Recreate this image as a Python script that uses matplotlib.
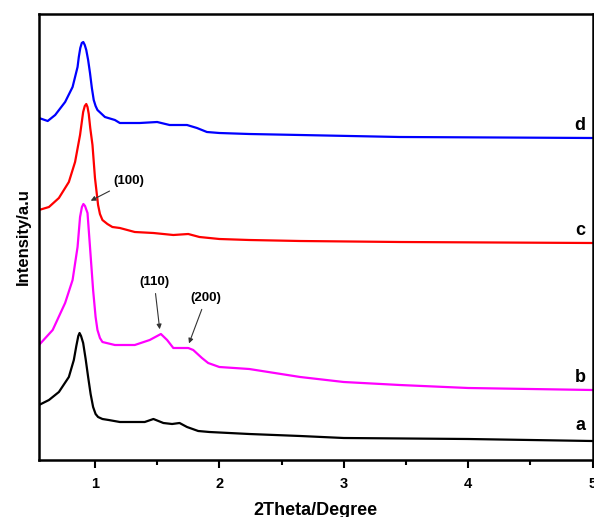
import matplotlib
matplotlib.use("Agg")
import matplotlib.pyplot as plt
from matplotlib.ticker import MultipleLocator

plt.rcParams['font.family'] = ['Liberation Sans', 'DejaVu Sans']
plt.rcParams['font.weight'] = 'bold'

# curve a (black)
tt_a = [0.55, 0.63, 0.71, 0.79, 0.83, 0.85, 0.866, 0.876, 0.888, 0.905, 0.925, 0.945, 0.965,
        0.985, 1.005, 1.025, 1.06, 1.11, 1.20, 1.32, 1.40, 1.47, 1.55, 1.62, 1.68, 1.74,
        1.83, 1.92, 2.24, 2.65, 3.0, 4.0, 5.0]
int_a = [55, 60, 68, 83, 100, 114, 124, 127, 124, 117, 101, 83, 66,
         53, 46, 43, 41, 40, 38, 38, 38, 41, 37, 36, 37, 33,
         29, 28, 26, 24, 22, 21, 19]

# curve b (magenta)
tt_b = [0.55, 0.66, 0.76, 0.82, 0.86, 0.88, 0.895, 0.907, 0.92, 0.94, 0.96, 0.985, 1.005,
        1.02, 1.04, 1.06, 1.16, 1.32, 1.44, 1.53, 1.58, 1.63, 1.70, 1.75, 1.79, 1.86,
        1.91, 2.0, 2.24, 2.65, 3.0, 3.45, 4.0, 5.0]
int_b = [115, 130, 157, 180, 213, 243, 253, 256, 254, 247, 213, 170, 143,
         130, 122, 118, 115, 115, 120, 126, 120, 112, 112, 112, 110, 102,
         97, 93, 91, 83, 78, 75, 72, 70]

# curve c (red)
tt_c = [0.55, 0.63, 0.71, 0.79, 0.84, 0.88, 0.905, 0.918, 0.93, 0.94, 0.95, 0.962, 0.98,
        1.0, 1.025, 1.04, 1.06, 1.10, 1.14, 1.20, 1.32, 1.47, 1.63, 1.75, 1.84, 2.0,
        2.24, 2.65, 3.45, 5.0]
int_c = [250, 253, 262, 278, 298, 325, 348, 354, 356, 353, 346, 332, 315,
         282, 255, 246, 240, 236, 233, 232, 228, 227, 225, 226, 223, 221,
         220, 219, 218, 217]

# curve d (blue)
tt_d = [0.55, 0.62, 0.68, 0.76, 0.82, 0.86, 0.87, 0.882, 0.894, 0.906, 0.918, 0.93, 0.945,
        0.96, 0.975, 0.99, 1.005, 1.02, 1.08, 1.16, 1.20, 1.36, 1.50, 1.60, 1.74, 1.82,
        1.90, 2.0, 2.24, 2.65, 3.45, 4.25, 5.0]
int_d = [342, 339, 345, 358, 373, 393, 403, 412, 417, 418, 415, 410, 400,
         387, 372, 360, 354, 350, 343, 340, 337, 337, 338, 335, 335, 332,
         328, 327, 326, 325, 323, 322.5, 322]

fig = plt.figure(figsize=(5.94, 5.17), dpi=100)
ax = fig.add_axes([39 / 594, 57 / 517, 553.5 / 594, 446 / 517])

ax.plot(tt_a, int_a, color='black', lw=1.6)
ax.plot(tt_b, int_b, color='#ff00ff', lw=1.6)
ax.plot(tt_c, int_c, color='#ff0000', lw=1.6)
ax.plot(tt_d, int_d, color='#0000ff', lw=1.6)

ax.set_xlim(0.55, 5.0)
ax.set_ylim(0, 446)
ax.set_yticks([])
ax.xaxis.set_major_locator(MultipleLocator(1))
ax.xaxis.set_minor_locator(MultipleLocator(0.5))
ax.tick_params(axis='x', which='major', direction='out', length=6, width=1.5,
               labelsize=10.5, pad=6)
ax.tick_params(axis='x', which='minor', direction='out', length=3.5, width=1.5)
for s in ax.spines.values():
    s.set_linewidth(1.8)

ax.set_xlabel('2Theta/Degree', fontsize=13, fontweight='bold', labelpad=8)
ax.set_ylabel('Intensity/a.u', fontsize=12, fontweight='bold', labelpad=6)

# curve labels
for lab, yb in zip(['a', 'b', 'c', 'd'], [30, 78, 225, 330]):
    ax.text(4.945, yb, lab, fontsize=13, fontweight='bold', ha='right', va='baseline')

# peak annotations
arr = dict(arrowstyle='-|>', color='#333333', lw=0.8, mutation_scale=7)
ax.annotate('(100)', xy=(0.946, 258), xytext=(1.15, 279), fontsize=9.5,
            fontweight='bold', ha='left', va='center', arrowprops=arr)
ax.annotate('(110)', xy=(1.523, 128), xytext=(1.476, 178), fontsize=9.5,
            fontweight='bold', ha='center', va='center', arrowprops=arr)
ax.annotate('(200)', xy=(1.748, 114), xytext=(1.893, 162), fontsize=9.5,
            fontweight='bold', ha='center', va='center', arrowprops=arr)

fig.savefig('out.png', dpi=100)
